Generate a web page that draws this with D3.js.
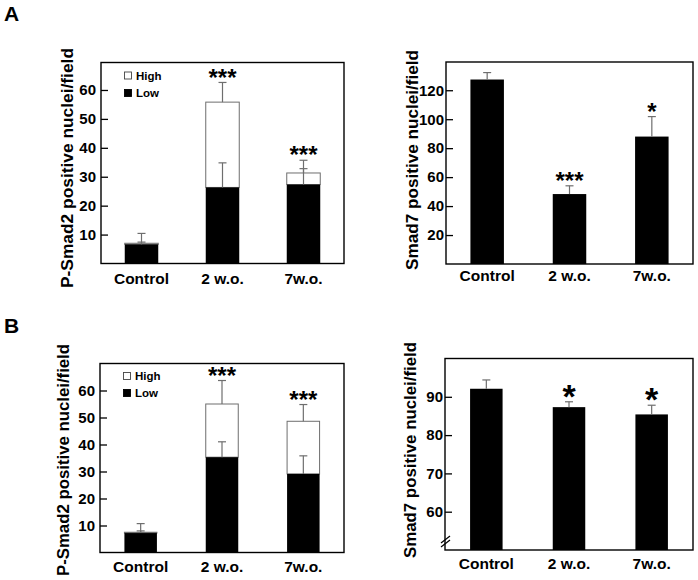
<!DOCTYPE html>
<html>
<head>
<meta charset="utf-8">
<script src="https://cdn.jsdelivr.net/npm/d3@7"></script>
<style>
  body { margin: 0; background: #fff; }
  svg { display: block; font-family: "Liberation Sans", Arial, sans-serif; font-weight: bold; }
</style>
</head>
<body>
<svg id="chart" width="698" height="580"></svg>
<script>
// ---------- data ----------
const categories = ["Control", "2 w.o.", "7w.o."];

// Panel A, left: P-Smad2 (stacked Low + High)
const pSmad2A_low = [6.6, 26.3, 27.3];
const pSmad2A_lowErr = [0.8, 8.5, 5.5];
const pSmad2A_high = [0.4, 29.5, 4.0];
const pSmad2A_totalErr = [3.4, 6.8, 4.4];
const pSmad2A_sig = ["", "***", "***"];
const pSmad2A_ticks = [10, 20, 30, 40, 50, 60];

// Panel A, right: Smad7
const smad7A = [127.4, 48.3, 88.0];
const smad7A_err = [4.8, 5.7, 13.8];
const smad7A_sig = ["", "***", "*"];
const smad7A_ticks = [20, 40, 60, 80, 100, 120];

// Panel B, left: P-Smad2 (stacked Low + High)
const pSmad2B_low = [7.2, 35.3, 29.1];
const pSmad2B_lowErr = [0.8, 5.7, 6.7];
const pSmad2B_high = [0.3, 19.7, 19.5];
const pSmad2B_totalErr = [3.2, 8.7, 6.2];
const pSmad2B_sig = ["", "***", "***"];
const pSmad2B_ticks = [10, 20, 30, 40, 50, 60];

// Panel B, right: Smad7 (broken axis starting at 50)
const smad7B = [92.1, 87.3, 85.4];
const smad7B_err = [2.3, 1.4, 2.4];
const smad7B_sig = ["", "*", "*"];
const smad7B_ticks = [60, 70, 80, 90];

const legendLabels = ["High", "Low"];

// ---------- drawing ----------
const svg = d3.select("#chart");
const ERR_COLOR = "#6e6e6e";

function drawPanel(cfg) {
  const g = svg.append("g");
  const x = d3.scalePoint().domain(categories).range([cfg.left, cfg.right]).padding(0.5);
  const y = d3.scaleLinear().domain(cfg.domain).range([cfg.bottom, cfg.top]);
  const bw = cfg.barWidth;

  const rows = categories.map((c, i) => ({
    c, i,
    low: cfg.low ? cfg.low[i] : cfg.values[i],
    lowErr: cfg.low ? cfg.lowErr[i] : cfg.err[i],
    high: cfg.high ? cfg.high[i] : 0,
    totErr: cfg.high ? cfg.totalErr[i] : 0,
    sig: cfg.sig[i]
  }));

  // High (white) part
  if (cfg.high) {
    g.selectAll(".hi").data(rows).enter().append("rect")
      .attr("x", d => x(d.c) - bw / 2)
      .attr("y", d => y(d.low + d.high))
      .attr("width", bw)
      .attr("height", d => y(d.low) - y(d.low + d.high))
      .attr("fill", "#fff").attr("stroke", ERR_COLOR).attr("stroke-width", 1);
  }
  // Low (black) part
  g.selectAll(".lo").data(rows).enter().append("rect")
    .attr("x", d => x(d.c) - bw / 2)
    .attr("y", d => y(d.low))
    .attr("width", bw)
    .attr("height", d => y(cfg.domain[0]) - y(d.low))
    .attr("fill", "#000");

  // error bars
  function errBar(top, val, d) {
    const cx = x(d.c);
    g.append("line").attr("x1", cx).attr("x2", cx).attr("y1", y(val)).attr("y2", y(top))
      .attr("stroke", ERR_COLOR).attr("stroke-width", 1.2);
    g.append("line").attr("x1", cx - 4).attr("x2", cx + 4).attr("y1", y(top)).attr("y2", y(top))
      .attr("stroke", ERR_COLOR).attr("stroke-width", 1.2);
  }
  rows.forEach(d => {
    if (cfg.high) {
      errBar(d.low + d.high + d.totErr, d.low + d.high, d);
      errBar(d.low + d.lowErr, d.low, d);
    } else {
      errBar(d.low + d.lowErr, d.low, d);
    }
  });

  // significance stars
  rows.forEach(d => {
    if (!d.sig) return;
    const topVal = d.low + d.high + (cfg.high ? d.totErr : d.lowErr);
    const fs = d.sig === "*" ? cfg.singleStarSize : 24;
    g.append("text")
      .attr("x", x(d.c))
      .attr("y", y(topVal) - 3.5 + fs * 0.28)
      .attr("text-anchor", "middle")
      .attr("font-size", fs)
      .attr("font-weight", "bold")
      .text(d.sig);
  });

  // frame
  g.append("rect").attr("x", cfg.left).attr("y", cfg.top)
    .attr("width", cfg.right - cfg.left).attr("height", cfg.bottom - cfg.top)
    .attr("fill", "none").attr("stroke", "#000").attr("stroke-width", 1.4);

  // y axis ticks (inward)
  const ax = g.append("g").attr("transform", `translate(${cfg.left},0)`)
    .call(d3.axisLeft(y).tickValues(cfg.ticks).tickSize(-7).tickPadding(cfg.tickPad));
  ax.select(".domain").remove();
  ax.selectAll(".tick line").attr("stroke", "#000").attr("stroke-width", 1.3);
  ax.selectAll(".tick text").attr("font-size", 15).attr("font-weight", "bold")
    .attr("fill", "#000").attr("font-family", "Liberation Sans, Arial, sans-serif");

  // x labels
  g.selectAll(".xl").data(categories).enter().append("text")
    .attr("x", d => x(d)).attr("y", cfg.xLabelY)
    .attr("text-anchor", "middle").attr("font-size", 15.5).attr("font-weight", "bold")
    .text(d => d);

  // y title
  g.append("text")
    .attr("transform", `translate(${cfg.titleX},${cfg.titleY}) rotate(-90)`)
    .attr("text-anchor", "middle").attr("font-size", 16.5).attr("font-weight", "bold")
    .attr("textLength", cfg.titleLen).attr("lengthAdjust", "spacingAndGlyphs")
    .text(cfg.title);

  // legend
  if (cfg.legendY) {
    const lg = g.append("g");
    legendLabels.forEach((lab, k) => {
      const yy = cfg.legendY[k];
      lg.append("rect").attr("x", cfg.left + 23.5).attr("y", yy - 7.5)
        .attr("width", 7).attr("height", 7)
        .attr("fill", k === 0 ? "#fff" : "#000").attr("stroke", k === 0 ? "#444" : "#000").attr("stroke-width", 0.9);
      lg.append("text").attr("x", cfg.left + 35).attr("y", yy)
        .attr("font-size", 11.5).attr("font-weight", "bold").text(lab);
    });
  }

  // axis break marks
  if (cfg.breakMark) {
    [0, 4].forEach(off => {
      g.append("line")
        .attr("x1", cfg.left - 4).attr("y1", cfg.bottom - 7 + off)
        .attr("x2", cfg.left + 5).attr("y2", cfg.bottom - 14 + off)
        .attr("stroke", "#000").attr("stroke-width", 1.2);
    });
  }
}

drawPanel({
  left: 101, right: 344, top: 62.5, bottom: 263.5, domain: [0, 69.5],
  barWidth: 33.5, low: pSmad2A_low, lowErr: pSmad2A_lowErr, high: pSmad2A_high, totalErr: pSmad2A_totalErr,
  sig: pSmad2A_sig, ticks: pSmad2A_ticks, tickPad: 5, xLabelY: 283.5,
  title: "P-Smad2 positive nuclei/field", titleX: 72.5, titleY: 168, titleLen: 240,
  legendY: [79.5, 97], singleStarSize: 24
});

drawPanel({
  left: 446, right: 693, top: 62, bottom: 264, domain: [0, 139.5],
  barWidth: 33.5, values: smad7A, err: smad7A_err,
  sig: smad7A_sig, ticks: smad7A_ticks, tickPad: 2, xLabelY: 280.5,
  title: "Smad7 positive nuclei/field", titleX: 417.5, titleY: 160, titleLen: 220,
  singleStarSize: 24
});

drawPanel({
  left: 100, right: 344, top: 363.5, bottom: 552.5, domain: [0, 70],
  barWidth: 32.5, low: pSmad2B_low, lowErr: pSmad2B_lowErr, high: pSmad2B_high, totalErr: pSmad2B_totalErr,
  sig: pSmad2B_sig, ticks: pSmad2B_ticks, tickPad: 5, xLabelY: 572,
  title: "P-Smad2 positive nuclei/field", titleX: 69, titleY: 460, titleLen: 232,
  legendY: [380, 397], singleStarSize: 24
});

drawPanel({
  left: 445, right: 693, top: 358.5, bottom: 550, domain: [50, 100],
  barWidth: 32.5, values: smad7B, err: smad7B_err,
  sig: smad7B_sig, ticks: smad7B_ticks, tickPad: 2, xLabelY: 568.5,
  title: "Smad7 positive nuclei/field", titleX: 416, titleY: 450, titleLen: 216,
  singleStarSize: 34, breakMark: true
});

// panel letters
svg.append("text").attr("x", 4).attr("y", 21).attr("font-size", 21).attr("font-weight", "bold").text("A");
svg.append("text").attr("x", 4).attr("y", 333).attr("font-size", 21).attr("font-weight", "bold").text("B");
</script>
</body>
</html>
